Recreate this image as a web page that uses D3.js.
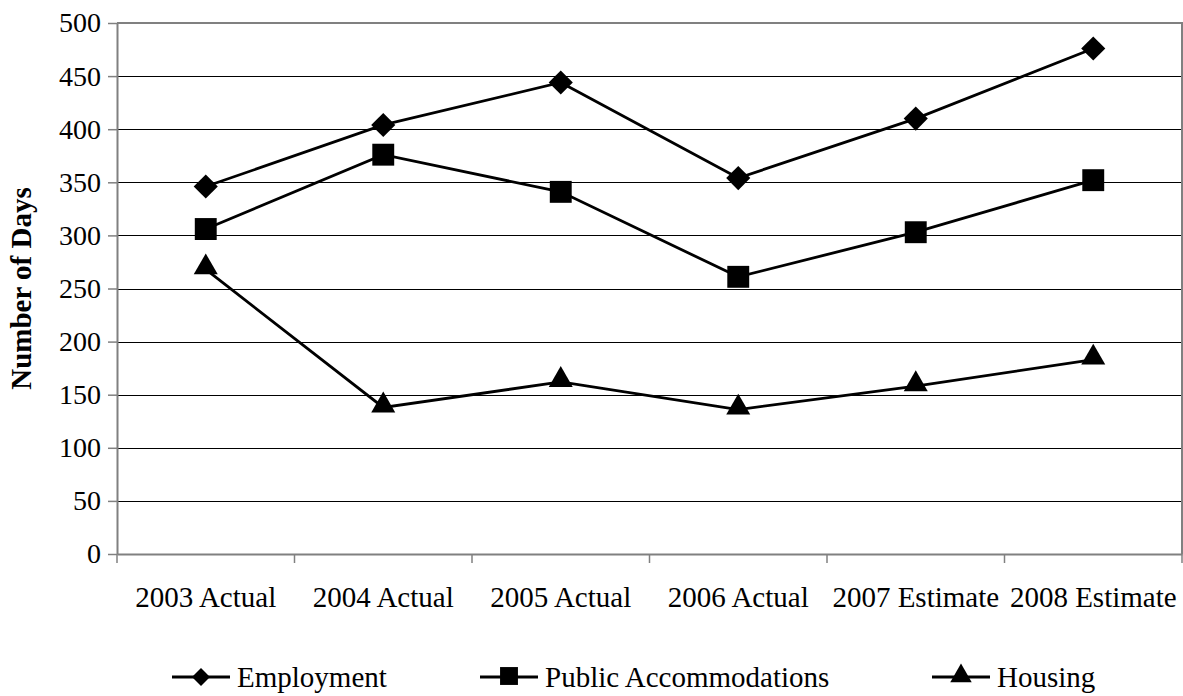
<!DOCTYPE html>
<html>
<head>
<meta charset="utf-8">
<title>Number of Days</title>
<script src="https://d3js.org/d3.v7.min.js"></script>
<style>
    body { margin: 0; background: #fff; }
    svg { display: block; font-family: "Liberation Serif", "Times New Roman", serif; }
</style>
</head>
<body>
<svg id="chart" width="1183" height="696"></svg>
<script>
    // data
    var categories = ["2003 Actual", "2004 Actual", "2005 Actual", "2006 Actual", "2007 Estimate", "2008 Estimate"];
    var employment = [346, 404, 444, 354, 410, 476];
    var publicAccommodations = [306, 376, 341, 261, 303, 352];
    var housing = [268, 138, 162, 136, 158, 183];
    var seriesNames = ["Employment", "Public Accommodations", "Housing"];
    var yTicks = [0, 50, 100, 150, 200, 250, 300, 350, 400, 450, 500];

    var series = [
        { name: seriesNames[0], values: employment, shape: d3.symbolDiamond2 },
        { name: seriesNames[1], values: publicAccommodations, shape: d3.symbolSquare },
        { name: seriesNames[2], values: housing, shape: d3.symbolTriangle }
    ];

    var svg = d3.select("#chart");
    var plotLeft = 117, plotRight = 1182, plotTop = 23, plotBottom = 554;

    var x = d3.scaleBand().domain(categories).range([plotLeft, plotRight]).padding(0);
    var y = d3.scaleLinear().domain([0, 500]).range([plotBottom, plotTop]);

    // gridlines
    svg.append("g")
        .selectAll("line")
        .data(yTicks.filter(function(d) { return d > 0 && d < 500; }))
        .enter().append("line")
        .attr("x1", plotLeft).attr("x2", plotRight)
        .attr("y1", function(d) { return Math.round(y(d)) + 0.5; })
        .attr("y2", function(d) { return Math.round(y(d)) + 0.5; })
        .attr("stroke", "#000").attr("stroke-width", 1);

    // frame (top and right)
    svg.append("path")
        .attr("d", "M" + plotLeft + "," + plotTop + "H" + plotRight + "V" + plotBottom)
        .attr("fill", "none").attr("stroke", "#808080").attr("stroke-width", 2);

    // y axis
    var yAxis = svg.append("g")
        .attr("transform", "translate(" + plotLeft + ",0)")
        .call(d3.axisLeft(y).tickValues(yTicks).tickSize(9).tickPadding(7).tickSizeOuter(0));
    yAxis.select(".domain").attr("stroke", "#808080").attr("stroke-width", 2);
    yAxis.selectAll(".tick line").attr("stroke", "#808080").attr("stroke-width", 1.5);
    yAxis.selectAll("text").attr("font-size", 28).attr("fill", "#000")
        .attr("font-family", "Liberation Serif");

    // x axis
    var xAxis = svg.append("g")
        .attr("transform", "translate(0," + plotBottom + ")")
        .call(d3.axisBottom(x).tickSize(0).tickSizeOuter(0));
    xAxis.select(".domain").attr("stroke", "#808080").attr("stroke-width", 2);
    xAxis.selectAll("text").attr("font-size", 29).attr("fill", "#000")
        .attr("font-family", "Liberation Serif")
        .attr("y", 53).attr("dy", 0);

    // category boundary ticks
    var bounds = categories.map(function(c) { return x(c); }).concat([x.range()[1]]);
    xAxis.selectAll(".bound")
        .data(bounds)
        .enter().append("line")
        .attr("class", "bound")
        .attr("x1", function(d) { return d; }).attr("x2", function(d) { return d; })
        .attr("y1", 0).attr("y2", 9)
        .attr("stroke", "#808080").attr("stroke-width", 1.5);

    // y axis title
    svg.append("text")
        .attr("transform", "translate(31," + ((plotTop + plotBottom) / 2) + ") rotate(-90)")
        .attr("text-anchor", "middle")
        .attr("font-size", 29).attr("font-weight", "bold")
        .text("Number of Days");

    // lines and markers
    var line = d3.line()
        .x(function(d, i) { return x(categories[i]) + x.bandwidth() / 2; })
        .y(function(d) { return y(d); });

    series.forEach(function(s) {
        svg.append("path")
            .datum(s.values)
            .attr("d", line)
            .attr("fill", "none").attr("stroke", "#000").attr("stroke-width", 2.8);

        svg.append("g").selectAll("path")
            .data(s.values)
            .enter().append("path")
            .attr("d", d3.symbol().type(s.shape).size(s.shape === d3.symbolTriangle ? 250 : 480))
            .attr("transform", function(d, i) {
                var cx = x(categories[i]) + x.bandwidth() / 2;
                var cy = y(d);
                if (s.shape === d3.symbolDiamond2) return "translate(" + cx + "," + cy + ") scale(0.88)";
                if (s.shape === d3.symbolSquare) return "translate(" + cx + "," + cy + ")";
                // triangle: center its box on the point
                return "translate(" + cx + "," + (cy - 2) + ")";
            })
            .attr("fill", "#000");
    });

    // legend
    var legendX = [201, 509, 961];
    var legendY = 677;
    var legend = svg.append("g").selectAll("g")
        .data(series)
        .enter().append("g")
        .attr("transform", function(d, i) { return "translate(" + legendX[i] + "," + legendY + ")"; });

    legend.append("line")
        .attr("x1", -29).attr("x2", 29)
        .attr("stroke", "#000").attr("stroke-width", 2.8);
    legend.append("path")
        .attr("d", function(d) {
            return d3.symbol().type(d.shape).size(d.shape === d3.symbolTriangle ? 200 : 320)();
        })
        .attr("transform", function(d) { return d.shape === d3.symbolDiamond2 ? "scale(0.8)" : "translate(0,-1)"; })
        .attr("fill", "#000");
    legend.append("text")
        .attr("x", 36).attr("y", 10)
        .attr("font-size", 29)
        .text(function(d) { return d.name; });
</script>
</body>
</html>
